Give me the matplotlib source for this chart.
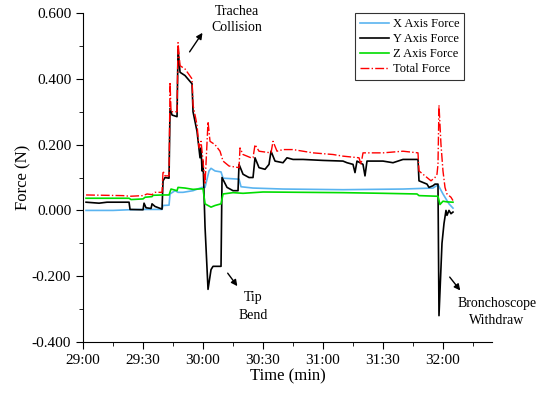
import matplotlib
matplotlib.use("Agg")
import matplotlib.pyplot as plt
from matplotlib.ticker import MultipleLocator, FuncFormatter

plt.rcParams["font.family"] = ["Liberation Serif", "DejaVu Serif"]
plt.rcParams["axes.unicode_minus"] = False

# time in seconds (29:00 = 1740 s), force in N
t_y = [1741.5, 1748, 1752, 1763, 1763.5, 1770, 1770.5, 1771.5, 1774, 1774.5, 1776, 1779.5,
       1780, 1781, 1783, 1783.5, 1784.5, 1787, 1787.5, 1788.5, 1791, 1794.5, 1795, 1797,
       1798.5, 1799, 1799.5, 1800, 1800.5, 1801, 1802.5, 1804, 1805, 1809, 1809.5, 1812,
       1815, 1817.5, 1818, 1820, 1823, 1825, 1826, 1828, 1831, 1833, 1834, 1836, 1840,
       1842, 1845, 1850, 1860, 1870, 1872, 1875, 1876, 1877, 1880, 1881, 1882, 1890, 1895,
       1900, 1907.5, 1908, 1912, 1913, 1915, 1916, 1917.5, 1918, 1919.5, 1920.5, 1921.5,
       1922, 1923, 1924, 1925]
f_y = [0.025, 0.022, 0.025, 0.025, 0.003, 0.002, 0.022, 0.008, 0.006, 0.020, 0.012, 0.004,
       0.090, 0.100, 0.098, 0.310, 0.290, 0.285, 0.490, 0.420, 0.410, 0.385, 0.300, 0.240,
       0.160, 0.190, 0.120, 0.150, 0.050, -0.050, -0.240, -0.180, -0.170, -0.170, 0.100, 0.070,
       0.060, 0.060, 0.140, 0.110, 0.100, 0.100, 0.160, 0.130, 0.125, 0.140, 0.180, 0.150, 0.145,
       0.160, 0.155, 0.155, 0.152, 0.150, 0.145, 0.140, 0.115, 0.150, 0.140, 0.105, 0.150, 0.150, 0.145,
       0.155, 0.155, 0.090, 0.080, 0.070, 0.075, 0.080, 0.080, -0.320, -0.100, -0.040, 0.000,
       -0.015, 0.000, -0.010, -0.005]

t_total = [1741.5, 1760, 1763.5, 1770, 1772, 1774.5, 1776, 1779.5, 1780, 1781, 1783, 1783.5,
           1784, 1787, 1787.5, 1788.5, 1791, 1794.5, 1795, 1797, 1798, 1799, 1800, 1801,
           1802.5, 1803.5, 1806, 1808.5, 1810, 1813, 1818, 1818.5, 1820, 1824, 1825, 1826,
           1828, 1834, 1835, 1837, 1840, 1845, 1855, 1865, 1870, 1878, 1879, 1880, 1890,
           1900, 1907.5, 1908, 1912, 1914, 1916, 1917, 1917.5, 1918, 1919, 1920, 1921, 1922,
           1924, 1925]
f_total = [0.047, 0.045, 0.043, 0.045, 0.050, 0.048, 0.055, 0.055, 0.120, 0.105, 0.105, 0.390,
           0.300, 0.300, 0.510, 0.440, 0.430, 0.400, 0.320, 0.260, 0.190, 0.210, 0.150, 0.080,
           0.270, 0.210, 0.200, 0.180, 0.150, 0.135, 0.130, 0.190, 0.170, 0.160, 0.160, 0.200,
           0.180, 0.175, 0.210, 0.180, 0.185, 0.185, 0.175, 0.170, 0.165, 0.160, 0.140, 0.175, 0.175,
           0.180, 0.175, 0.120, 0.100, 0.090, 0.100, 0.110, 0.140, 0.320, 0.200, 0.120, 0.070, 0.050,
           0.040, 0.030]

t_x = [1741.5, 1755, 1763, 1770, 1779.5, 1780, 1783, 1783.5, 1786, 1787.5, 1790, 1795, 1799.5,
       1801, 1803, 1804, 1806, 1809, 1810, 1818, 1819, 1825, 1840, 1870, 1900, 1915, 1917.5,
       1920, 1923, 1925]
f_x = [0.000, 0.000, 0.002, 0.003, 0.003, 0.015, 0.016, 0.050, 0.060, 0.055, 0.055, 0.060, 0.070,
       0.070, 0.120, 0.128, 0.120, 0.117, 0.098, 0.095, 0.072, 0.068, 0.065, 0.063, 0.065, 0.068,
       0.078, 0.050, 0.020, 0.007]

t_z = [1741.5, 1763, 1764, 1770, 1771, 1774.5, 1775, 1780, 1783, 1784, 1787, 1787.5, 1791, 1795,
       1800, 1801, 1804, 1806, 1809, 1810, 1815, 1820, 1830, 1850, 1870, 1890, 1907, 1908,
       1917.5, 1918.5, 1920, 1922, 1925]
f_z = [0.037, 0.037, 0.033, 0.035, 0.040, 0.042, 0.046, 0.047, 0.047, 0.065, 0.060, 0.070, 0.068,
       0.064, 0.066, 0.020, 0.010, 0.015, 0.020, 0.050, 0.054, 0.052, 0.056, 0.055, 0.054, 0.052,
       0.050, 0.045, 0.043, 0.018, 0.028, 0.026, 0.025]

fig = plt.figure(figsize=(5.5, 3.96), dpi=100)
ax = fig.add_axes([0.151, 0.1364, 0.7435, 0.8306])

ax.plot(t_x, f_x, color="#5AB4F0", lw=1.2, label="X Axis Force")
ax.plot(t_y, f_y, color="black", lw=1.2, label="Y Axis Force")
ax.plot(t_z, f_z, color="#00DD00", lw=1.2, label="Z Axis Force")
ax.plot(t_total, f_total, color="red", lw=1.0, ls="-.", label="Total Force")

ax.set_xlim(1740, 1944.5)
ax.set_ylim(-0.4, 0.6)
ax.xaxis.set_major_locator(MultipleLocator(30))
ax.xaxis.set_minor_locator(MultipleLocator(15))
ax.yaxis.set_major_locator(MultipleLocator(0.2))
ax.yaxis.set_minor_locator(MultipleLocator(0.1))
ax.xaxis.set_major_formatter(FuncFormatter(lambda v, p: f"{int(v // 60)}:{int(round(v % 60)):02d}"))
ax.yaxis.set_major_formatter(FuncFormatter(lambda v, p: f"{v:.3f}"))
ax.tick_params(which="major", direction="out", length=5, labelsize=11)
ax.tick_params(which="minor", direction="out", length=3)
ax.spines["top"].set_visible(False)
ax.spines["right"].set_visible(False)
ax.set_xlabel("Time (min)", fontsize=12, labelpad=1)
ax.set_ylabel("Force (N)", fontsize=12, labelpad=0)

leg = ax.legend(loc="upper right", bbox_to_anchor=(0.932, 1.0), borderaxespad=0, fontsize=9,
                frameon=True, fancybox=False, edgecolor="black", handlelength=2.3,
                handletextpad=0.3, borderpad=0.4, labelspacing=0.25)
leg.get_frame().set_linewidth(0.8)
for txt in leg.get_texts():
    txt.set_ha("right")

arrow = dict(arrowstyle="-|>", color="black", lw=1.0, mutation_scale=9)
ax.annotate("", xy=(1800.5, 0.547), xytext=(1792.5, 0.475), arrowprops=arrow)
ax.text(1817, 0.625, "Trachea\nCollision", fontsize=10, ha="center", va="top",
        linespacing=1.3, clip_on=False)
ax.annotate("", xy=(1818, -0.237), xytext=(1811.5, -0.184), arrowprops=arrow)
ax.text(1825, -0.245, "Tip\nBend", fontsize=10, ha="center", va="top", linespacing=1.45)
ax.annotate("", xy=(1929.5, -0.25), xytext=(1922.5, -0.196), arrowprops=arrow)
ax.text(1947, -0.263, "Bronchoscope\nWithdraw", fontsize=10, ha="center", va="top",
        linespacing=1.45, clip_on=False)

fig.savefig("out.png", dpi=100)
